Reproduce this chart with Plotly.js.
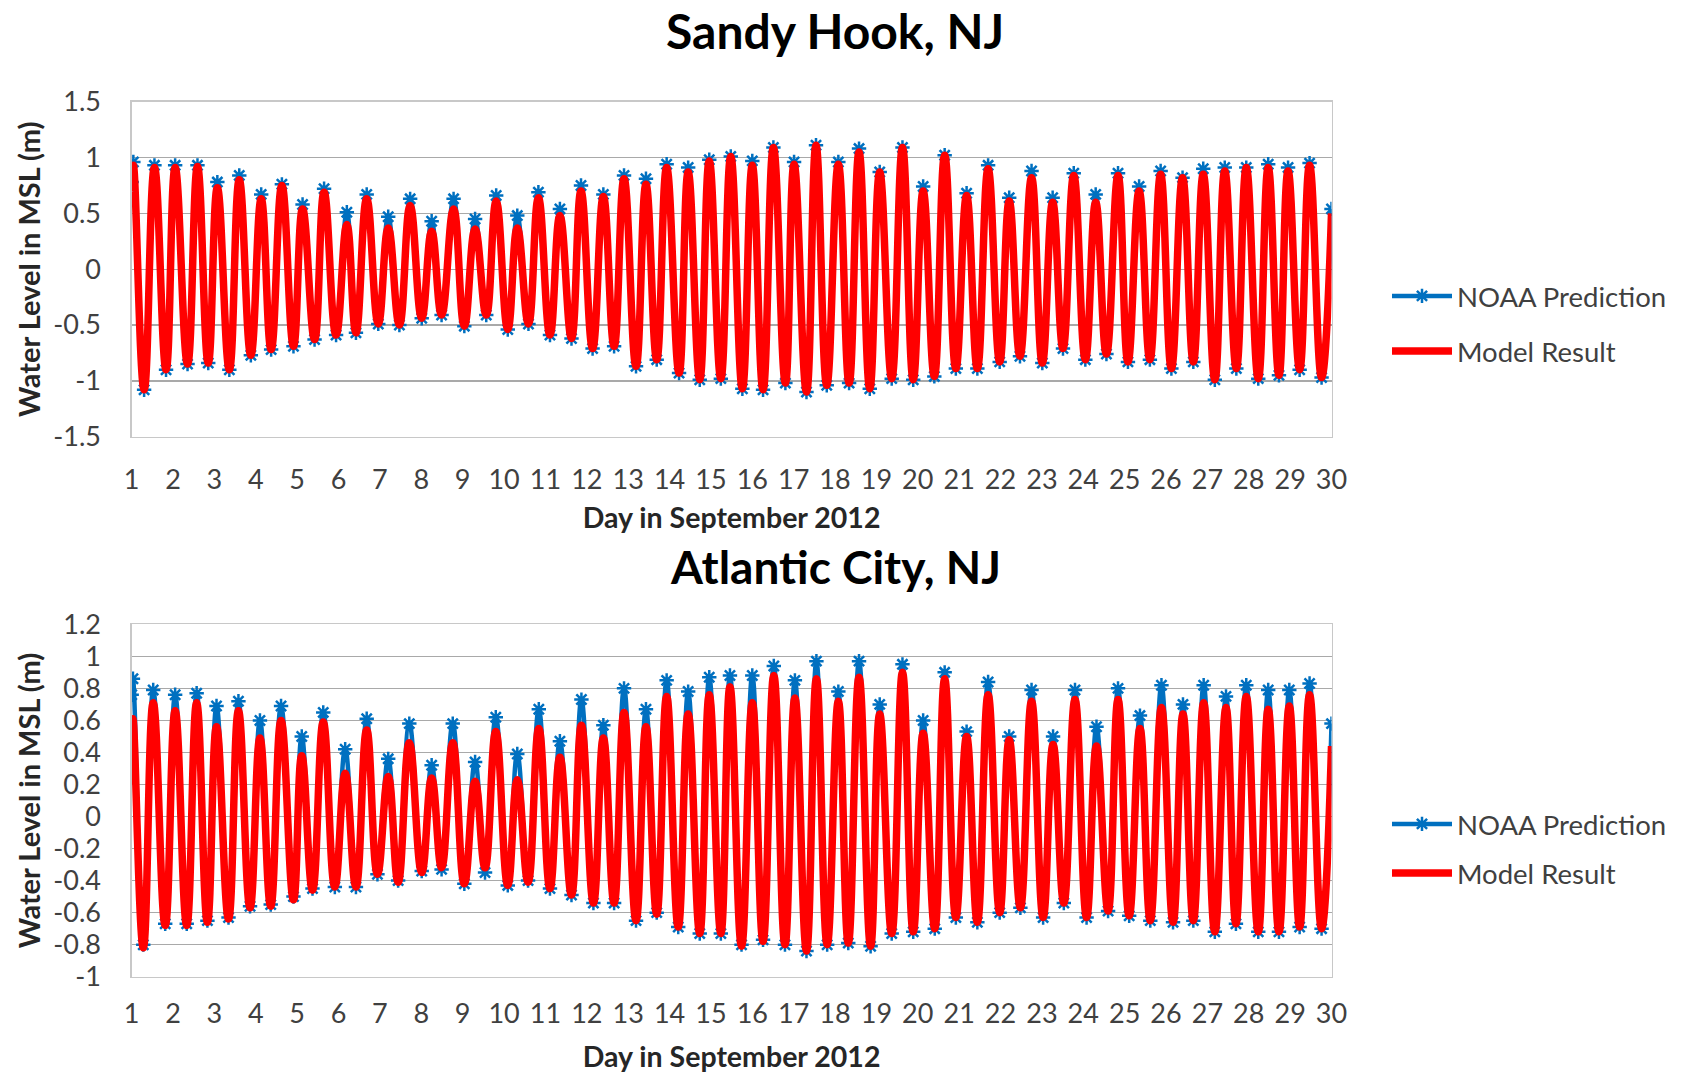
<!DOCTYPE html>
<html>
<head>
<meta charset="utf-8">
<script src="https://cdn.plot.ly/plotly-3.0.1.min.js"></script>
<style>
  html, body { margin: 0; padding: 0; background: #ffffff; }
  #chart { width: 1682px; height: 1073px; }
</style>
</head>
<body>
<div id="chart"></div>
<script>
// Tidal extremes (high / low water, in order) for September 2012, water level in m relative to MSL.
// Each station: time in days, NOAA predicted level, and model result at the same turning points.

const sandyDays = [
  1.00, 1.04, 1.30, 1.55, 1.83, 2.05, 2.35, 2.59, 2.85, 3.07,
  3.36, 3.60, 3.88, 4.13, 4.37, 4.63, 4.91, 5.13, 5.42, 5.65,
  5.94, 6.20, 6.42, 6.68, 6.96, 7.20, 7.47, 7.73, 8.01, 8.25,
  8.49, 8.78, 9.04, 9.30, 9.57, 9.81, 10.09, 10.32, 10.59, 10.83,
  11.11, 11.35, 11.63, 11.86, 12.14, 12.40, 12.66, 12.90, 13.19, 13.43,
  13.69, 13.93, 14.23, 14.45, 14.73, 14.96, 15.24, 15.48, 15.76, 16.00,
  16.26, 16.51, 16.80, 17.01, 17.31, 17.54, 17.80, 18.08, 18.34, 18.58,
  18.84, 19.08, 19.37, 19.63, 19.89, 20.13, 20.40, 20.65, 20.92, 21.18,
  21.44, 21.70, 21.98, 22.21, 22.47, 22.75, 23.01, 23.26, 23.51, 23.77,
  24.05, 24.30, 24.56, 24.84, 25.08, 25.35, 25.61, 25.87, 26.13, 26.40,
  26.66, 26.90, 27.18, 27.42, 27.70, 27.94, 28.23, 28.47, 28.73, 28.95,
  29.23, 29.47, 29.76, 30.00
];
const sandyNoaa = [
  0.78, 0.96, -1.08, 0.93, -0.90, 0.93, -0.85, 0.93, -0.84, 0.78,
  -0.90, 0.84, -0.77, 0.67, -0.72, 0.76, -0.69, 0.58, -0.63, 0.72,
  -0.59, 0.51, -0.57, 0.67, -0.49, 0.47, -0.50, 0.63, -0.44, 0.43,
  -0.41, 0.63, -0.51, 0.45, -0.41, 0.66, -0.54, 0.48, -0.49, 0.69,
  -0.59, 0.54, -0.62, 0.75, -0.71, 0.67, -0.69, 0.84, -0.87, 0.81,
  -0.81, 0.94, -0.93, 0.91, -0.99, 0.98, -0.98, 1.01, -1.07, 0.97,
  -1.08, 1.09, -1.02, 0.96, -1.10, 1.11, -1.04, 0.96, -1.02, 1.08,
  -1.07, 0.87, -0.98, 1.09, -0.99, 0.74, -0.96, 1.02, -0.89, 0.68,
  -0.89, 0.93, -0.83, 0.64, -0.78, 0.88, -0.84, 0.64, -0.71, 0.86,
  -0.81, 0.67, -0.76, 0.86, -0.83, 0.74, -0.81, 0.88, -0.89, 0.82,
  -0.83, 0.90, -0.99, 0.91, -0.89, 0.91, -0.98, 0.94, -0.95, 0.91,
  -0.90, 0.95, -0.97, 0.54
];
const sandyModel = [
  0.70, 0.93, -1.08, 0.91, -0.90, 0.91, -0.85, 0.92, -0.84, 0.73,
  -0.90, 0.80, -0.77, 0.63, -0.72, 0.75, -0.69, 0.54, -0.63, 0.69,
  -0.59, 0.40, -0.57, 0.63, -0.49, 0.37, -0.50, 0.57, -0.44, 0.34,
  -0.41, 0.54, -0.51, 0.36, -0.41, 0.61, -0.54, 0.37, -0.49, 0.64,
  -0.59, 0.48, -0.62, 0.70, -0.71, 0.65, -0.69, 0.81, -0.87, 0.76,
  -0.81, 0.91, -0.93, 0.87, -0.99, 0.97, -0.98, 1.01, -1.07, 0.93,
  -1.08, 1.09, -1.02, 0.94, -1.10, 1.11, -1.04, 0.94, -1.02, 1.05,
  -1.07, 0.87, -0.98, 1.09, -0.99, 0.70, -0.96, 1.02, -0.89, 0.66,
  -0.89, 0.90, -0.83, 0.61, -0.78, 0.82, -0.84, 0.60, -0.71, 0.84,
  -0.81, 0.60, -0.76, 0.84, -0.83, 0.70, -0.81, 0.85, -0.89, 0.82,
  -0.83, 0.85, -0.99, 0.88, -0.89, 0.91, -0.98, 0.91, -0.95, 0.88,
  -0.90, 0.93, -0.97, 0.50
];

const atlanticDays = [
  1.00, 1.03, 1.28, 1.52, 1.81, 2.05, 2.33, 2.57, 2.83, 3.05,
  3.34, 3.58, 3.86, 4.10, 4.36, 4.61, 4.91, 5.11, 5.37, 5.63,
  5.91, 6.16, 6.42, 6.68, 6.94, 7.20, 7.44, 7.71, 8.01, 8.25,
  8.49, 8.76, 9.04, 9.30, 9.54, 9.80, 10.09, 10.32, 10.58, 10.84,
  11.11, 11.35, 11.63, 11.87, 12.16, 12.40, 12.66, 12.90, 13.19, 13.43,
  13.69, 13.93, 14.21, 14.45, 14.73, 14.96, 15.24, 15.46, 15.74, 16.00,
  16.26, 16.52, 16.79, 17.03, 17.31, 17.55, 17.81, 18.08, 18.32, 18.58,
  18.86, 19.08, 19.37, 19.63, 19.89, 20.13, 20.41, 20.65, 20.92, 21.18,
  21.44, 21.70, 21.98, 22.21, 22.48, 22.75, 23.03, 23.27, 23.53, 23.80,
  24.08, 24.32, 24.60, 24.84, 25.11, 25.37, 25.62, 25.89, 26.17, 26.41,
  26.66, 26.91, 27.18, 27.45, 27.69, 27.94, 28.23, 28.47, 28.73, 28.98,
  29.23, 29.47, 29.76, 30.00
];
const atlanticNoaa = [
  0.76, 0.86, -0.80, 0.79, -0.67, 0.76, -0.67, 0.77, -0.65, 0.69,
  -0.63, 0.72, -0.56, 0.60, -0.55, 0.69, -0.50, 0.50, -0.45, 0.65,
  -0.44, 0.42, -0.44, 0.61, -0.36, 0.36, -0.40, 0.58, -0.34, 0.32,
  -0.33, 0.58, -0.42, 0.34, -0.35, 0.62, -0.43, 0.39, -0.40, 0.67,
  -0.45, 0.47, -0.49, 0.73, -0.54, 0.57, -0.54, 0.80, -0.65, 0.67,
  -0.60, 0.85, -0.69, 0.78, -0.73, 0.87, -0.73, 0.88, -0.80, 0.88,
  -0.77, 0.94, -0.80, 0.85, -0.84, 0.97, -0.80, 0.78, -0.79, 0.97,
  -0.81, 0.70, -0.73, 0.95, -0.72, 0.60, -0.70, 0.90, -0.63, 0.53,
  -0.66, 0.84, -0.60, 0.50, -0.57, 0.79, -0.63, 0.50, -0.54, 0.79,
  -0.63, 0.56, -0.59, 0.80, -0.62, 0.63, -0.65, 0.82, -0.66, 0.70,
  -0.65, 0.82, -0.72, 0.75, -0.67, 0.82, -0.72, 0.79, -0.72, 0.79,
  -0.69, 0.83, -0.70, 0.58
];
const atlanticModel = [
  0.20, 0.61, -0.82, 0.71, -0.68, 0.66, -0.68, 0.71, -0.66, 0.56,
  -0.64, 0.66, -0.57, 0.49, -0.56, 0.60, -0.52, 0.38, -0.46, 0.59,
  -0.44, 0.27, -0.44, 0.54, -0.36, 0.25, -0.41, 0.46, -0.35, 0.24,
  -0.32, 0.46, -0.42, 0.22, -0.32, 0.53, -0.43, 0.23, -0.41, 0.55,
  -0.45, 0.37, -0.49, 0.57, -0.54, 0.49, -0.54, 0.65, -0.65, 0.56,
  -0.61, 0.75, -0.69, 0.64, -0.73, 0.76, -0.73, 0.81, -0.81, 0.71,
  -0.78, 0.88, -0.80, 0.74, -0.84, 0.86, -0.80, 0.72, -0.79, 0.87,
  -0.81, 0.64, -0.73, 0.90, -0.72, 0.52, -0.70, 0.86, -0.63, 0.50,
  -0.66, 0.76, -0.60, 0.48, -0.57, 0.72, -0.63, 0.45, -0.54, 0.73,
  -0.63, 0.44, -0.59, 0.73, -0.62, 0.55, -0.65, 0.68, -0.66, 0.64,
  -0.65, 0.71, -0.72, 0.68, -0.67, 0.75, -0.72, 0.67, -0.72, 0.69,
  -0.69, 0.76, -0.70, 0.44
];

// Axis ticks
const dayTicks = [1, 2, 3, 4, 5, 6, 7, 8, 9, 10, 11, 12, 13, 14, 15,
                  16, 17, 18, 19, 20, 21, 22, 23, 24, 25, 26, 27, 28, 29, 30];
const sandyLevelTicks = [-1.5, -1, -0.5, 0, 0.5, 1, 1.5];
const sandyLevelLabels = ['-1.5', '-1', '-0.5', '0', '0.5', '1', '1.5'];
const atlanticLevelTicks = [-1, -0.8, -0.6, -0.4, -0.2, 0, 0.2, 0.4, 0.6, 0.8, 1, 1.2];
const atlanticLevelLabels = ['-1', '-0.8', '-0.6', '-0.4', '-0.2', '0', '0.2', '0.4', '0.6', '0.8', '1', '1.2'];

const stationTitles = ['Sandy Hook, NJ', 'Atlantic City, NJ'];
const seriesNames = ['NOAA Prediction', 'Model Result'];
const xTitle = 'Day in September 2012';
const yTitle = 'Water Level in MSL (m)';

const FONT = 'Lato, "Open Sans", "DejaVu Sans", sans-serif';
const NOAA_BLUE = '#0070C0';
const MODEL_RED = '#FF0000';
const GRID = '#A9A9A9';
const FRAME = '#C8C8C8';
const TEXT = '#404040';

function noaaTrace(x, y, xa, ya, legendId) {
  return {
    type: 'scatter', mode: 'lines+markers', name: seriesNames[0],
    x: x, y: y, xaxis: xa, yaxis: ya, legend: legendId,
    line: { color: NOAA_BLUE, width: 4.5, shape: 'spline', smoothing: 1.3 },
    marker: { symbol: 'asterisk-open', size: 12, color: NOAA_BLUE,
              line: { color: NOAA_BLUE, width: 2.5 } },
    hoverinfo: 'x+y+name'
  };
}
function modelTrace(x, y, xa, ya, legendId) {
  return {
    type: 'scatter', mode: 'lines', name: seriesNames[1],
    x: x, y: y, xaxis: xa, yaxis: ya, legend: legendId,
    line: { color: MODEL_RED, width: 7.5, shape: 'spline', smoothing: 1.3 },
    hoverinfo: 'x+y+name'
  };
}

const traces = [
  noaaTrace(sandyDays, sandyNoaa, 'x', 'y', 'legend'),
  modelTrace(sandyDays, sandyModel, 'x', 'y', 'legend2'),
  noaaTrace(atlanticDays, atlanticNoaa, 'x2', 'y2', 'legend3'),
  modelTrace(atlanticDays, atlanticModel, 'x2', 'y2', 'legend4')
];

const W = 1682, H = 1073;
const px = v => v / W;
const py = v => 1 - v / H;

function xAxis(anchor, labelGap, titleGap) {
  return {
    anchor: anchor, domain: [px(131.7), px(1331.5)],
    range: [1, 30], tickmode: 'array', tickvals: dayTicks,
    ticks: '', ticklabelstandoff: labelGap,
    showgrid: false, zeroline: false,
    showline: true, mirror: true, linecolor: FRAME, linewidth: 1.3,
    tickfont: { family: FONT, size: 27, color: TEXT },
    title: { text: '<b>' + xTitle + '</b>', standoff: titleGap,
             font: { family: FONT, size: 28.5, color: '#262626' } },
    fixedrange: true
  };
}
function yAxis(anchor, domain, range, vals, labels) {
  return {
    anchor: anchor, domain: domain, range: range,
    tickmode: 'array', tickvals: vals, ticktext: labels,
    ticks: '', ticklabelstandoff: 24,
    showgrid: true, gridcolor: GRID, gridwidth: 1.3, zeroline: false,
    showline: true, mirror: true, linecolor: FRAME, linewidth: 1.3,
    tickfont: { family: FONT, size: 27, color: TEXT },
    title: { text: '<b>' + yTitle + '</b>', standoff: 4,
             font: { family: FONT, size: 29, color: '#262626' } },
    fixedrange: true
  };
}

function legendAt(y) {
  return {
    x: px(1387), xanchor: 'left', y: py(y), yanchor: 'middle',
    bgcolor: 'rgba(0,0,0,0)', borderwidth: 0, itemwidth: 60,
    font: { family: FONT, size: 27.5, color: TEXT },
    itemclick: false, itemdoubleclick: false
  };
}

const layout = {
  width: W, height: H,
  margin: { l: 0, r: 0, t: 0, b: 0 },
  paper_bgcolor: '#ffffff', plot_bgcolor: '#ffffff',
  showlegend: true,
  xaxis: xAxis('y', 19, 13),
  yaxis: yAxis('x', [py(436.7), py(101.7)], [-1.5, 1.5], sandyLevelTicks, sandyLevelLabels),
  xaxis2: xAxis('y2', 13, 18),
  yaxis2: yAxis('x2', [py(976.7), py(624.3)], [-1, 1.2], atlanticLevelTicks, atlanticLevelLabels),
  legend: legendAt(296),
  legend2: legendAt(351),
  legend3: legendAt(824),
  legend4: legendAt(873),
  annotations: [
    { text: '<b>' + stationTitles[0] + '</b>', xref: 'paper', yref: 'paper',
      x: px(835), y: py(30), xanchor: 'center', yanchor: 'middle', showarrow: false,
      font: { family: FONT, size: 48, color: '#000000' } },
    { text: '<b>' + stationTitles[1] + '</b>', xref: 'paper', yref: 'paper',
      x: px(835), y: py(566), xanchor: 'center', yanchor: 'middle', showarrow: false,
      font: { family: FONT, size: 46, color: '#000000' } }
  ]
};

Plotly.newPlot('chart', traces, layout, { displayModeBar: false, staticPlot: true });
</script>
</body>
</html>
